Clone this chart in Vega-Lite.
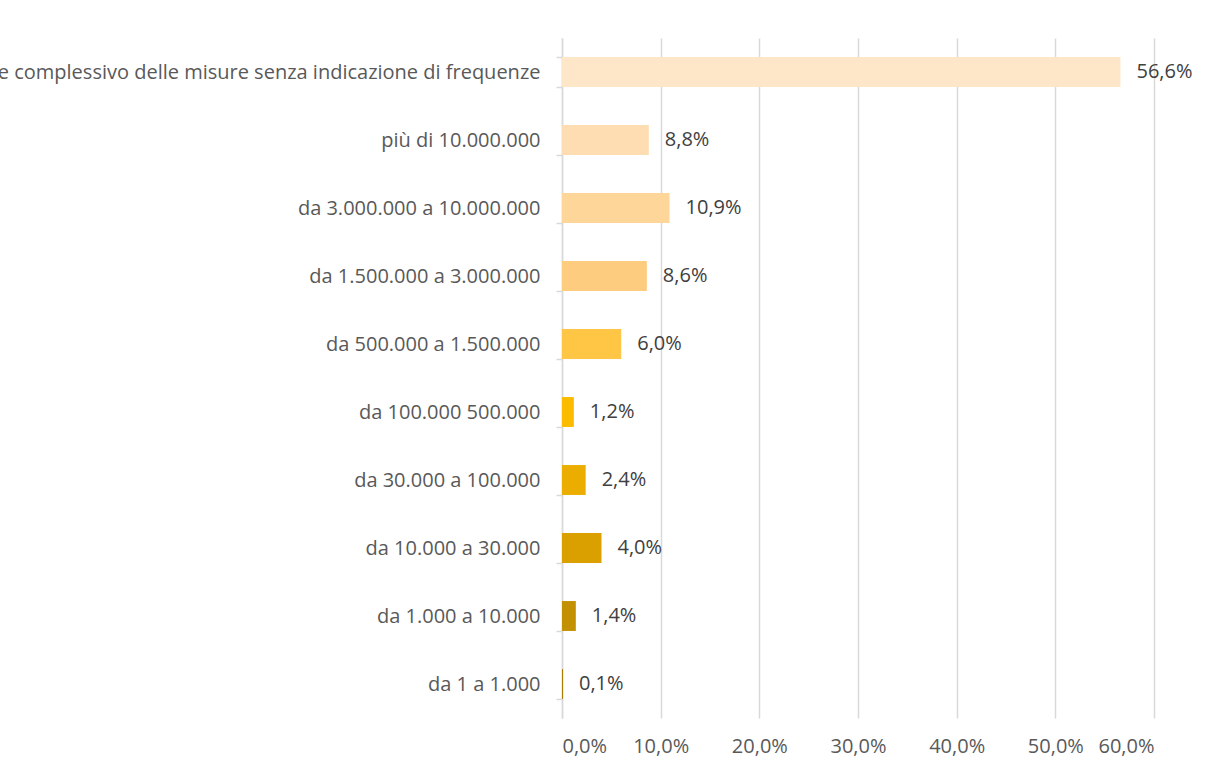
{
  "$schema": "https://vega.github.io/schema/vega-lite/v6.json",
  "width": 592,
  "height": 680,
  "autosize": {"type": "none"},
  "padding": {"left": 562, "top": 38, "right": 52, "bottom": 54},
  "background": "white",
  "config": {
    "view": {"stroke": null},
    "locale": {"number": {"decimal": ",", "thousands": ".", "grouping": [3], "currency": ["€", ""]}},
    "font": "Open Sans"
  },
  "data": {
    "values": [
      {"cat": "Valore complessivo delle misure senza indicazione di frequenze", "v": 0.566},
      {"cat": "più di 10.000.000", "v": 0.088},
      {"cat": "da 3.000.000 a 10.000.000", "v": 0.109},
      {"cat": "da 1.500.000 a 3.000.000", "v": 0.086},
      {"cat": "da 500.000 a 1.500.000", "v": 0.060},
      {"cat": "da 100.000 500.000", "v": 0.012},
      {"cat": "da 30.000 a 100.000", "v": 0.024},
      {"cat": "da 10.000 a 30.000", "v": 0.040},
      {"cat": "da 1.000 a 10.000", "v": 0.014},
      {"cat": "da 1 a 1.000", "v": 0.001}
    ]
  },
  "encoding": {
    "y": {
      "field": "cat",
      "type": "nominal",
      "sort": null,
      "title": null,
      "scale": {"paddingInner": 0.56, "paddingOuter": 0.28},
      "axis": {
        "tickBand": "extent",
        "domainColor": "#D9D9D9",
        "domainWidth": 1.5,
        "tickColor": "#D9D9D9",
        "tickSize": 6,
        "tickWidth": 1.5,
        "labelFontSize": 20,
        "labelColor": "#595959",
        "labelFont": "Open Sans",
        "labelLimit": 0,
        "labelPadding": 16,
        "labelExpr": "replace(datum.label, ' frequenze', '\\nfrequenze')",
        "encode": {
          "labels": {
            "lineBreak": {"value": "\n"},
            "lineHeight": {"value": 26},
            "align": {"condition": {"test": "indexof(datum.value, 'Valore') == 0", "value": "center"}, "value": "right"},
            "dx": {"condition": {"test": "indexof(datum.value, 'Valore') == 0", "value": -254}, "value": 0}
          }
        }
      }
    },
    "x": {
      "field": "v",
      "type": "quantitative",
      "title": null,
      "scale": {"domain": [0, 0.6], "nice": false},
      "axis": {
        "values": [0, 0.1, 0.2, 0.3, 0.4, 0.5, 0.6],
        "format": ".1%",
        "domain": false,
        "ticks": false,
        "gridColor": "#D9D9D9",
        "gridWidth": 1.5,
        "labelFontSize": 20,
        "labelFont": "Open Sans",
        "labelColor": "#595959",
        "labelPadding": 18
      }
    }
  },
  "layer": [
    {
      "mark": {"type": "bar"},
      "encoding": {
        "color": {
          "field": "cat",
          "type": "nominal",
          "legend": null,
          "scale": {
            "domain": [
              "Valore complessivo delle misure senza indicazione di frequenze",
              "più di 10.000.000",
              "da 3.000.000 a 10.000.000",
              "da 1.500.000 a 3.000.000",
              "da 500.000 a 1.500.000",
              "da 100.000 500.000",
              "da 30.000 a 100.000",
              "da 10.000 a 30.000",
              "da 1.000 a 10.000",
              "da 1 a 1.000"
            ],
            "range": ["#FEE6C9", "#FEDDB3", "#FED699", "#FECC7E", "#FFC544", "#FBBC00", "#EBAE00", "#D9A000", "#C29000", "#A67C00"]
          }
        }
      }
    },
    {
      "mark": {"type": "text", "align": "left", "baseline": "middle", "dx": 16, "fontSize": 20, "color": "#404040", "font": "Open Sans"},
      "encoding": {
        "text": {"field": "v", "type": "quantitative", "format": ".1%"}
      }
    }
  ]
}
